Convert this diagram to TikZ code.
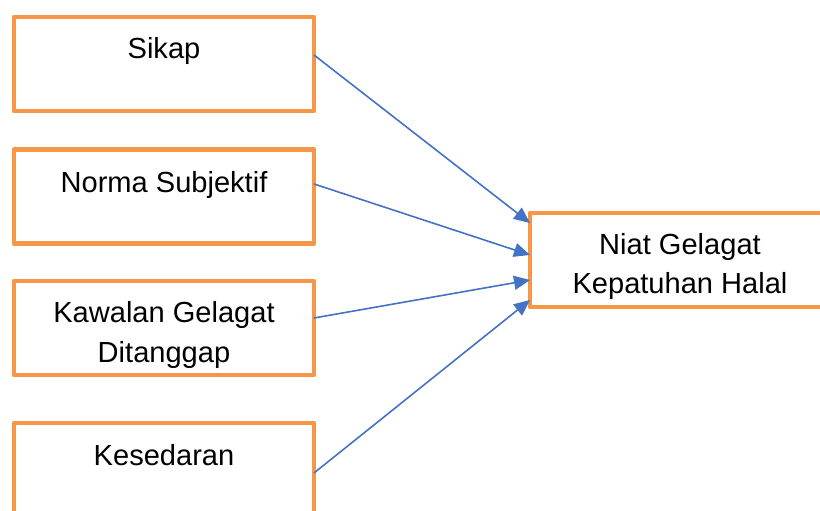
\documentclass[tikz,border=0pt]{standalone}
\usepackage{fontspec}
\setmainfont{Liberation Sans}
\usetikzlibrary{arrows.meta}
\definecolor{boxorange}{HTML}{F79646}
\definecolor{arrowblue}{HTML}{4472C4}

\begin{document}
\begin{tikzpicture}[x=0.75pt, y=0.75pt]
    \tikzset{
        box/.style={draw=boxorange, line width=3.4pt, line join=round,
            minimum width=225pt, minimum height=70.5pt, outer sep=0pt, inner sep=0pt},
        boxtext/.style={anchor=base, align=center, inner sep=0pt,
            font=\fontsize{21.8}{29.3}\selectfont},
        link/.style={arrowblue, line width=1.2pt, -{Triangle[length=12pt, width=10.5pt]}}
    }
    \clip (0,0) rectangle (820,510);

    % Factor boxes on the left
    \node[box] (sikap) at (164,446) {};
    \node[box] (norma) at (164,313.5) {};
    \node[box] (kawalan) at (164,182) {};
    \node[box] (kesedaran) at (164,40) {};

    % Outcome box on the right
    \node[box] (niat) at (680,250) {};

    % Texts sit near the top of each box (base = last line)
    \node[boxtext] (sikap_t) at ([yshift=-31.5pt]sikap.north) {Sikap};
    \node[boxtext] (norma_t) at ([yshift=-32.5pt]norma.north) {Norma Subjektif};
    \node[boxtext] (kawalan_t) at ([yshift=-60.8pt]kawalan.north) {Kawalan Gelagat\\Ditanggap};
    \node[boxtext] (kesedaran_t) at ([yshift=-31.5pt]kesedaran.north) {Kesedaran};
    \node[boxtext] (niat_t) at ([yshift=-60.3pt]niat.north) {Niat Gelagat\\Kepatuhan Halal};

    % Arrows into the outcome box
    \draw[link] ([yshift=6.75pt]sikap.east) -- ([yshift=27.75pt]niat.west);
    \draw[link] ([yshift=9.4pt]norma.east) -- ([yshift=3.75pt]niat.west);
    \draw[link] ([yshift=7.5pt]kawalan.east) -- ([yshift=-15pt]niat.west);
    \draw[link] ([yshift=-2.25pt]kesedaran.east) -- ([yshift=-30pt]niat.west);
\end{tikzpicture}
\end{document}
